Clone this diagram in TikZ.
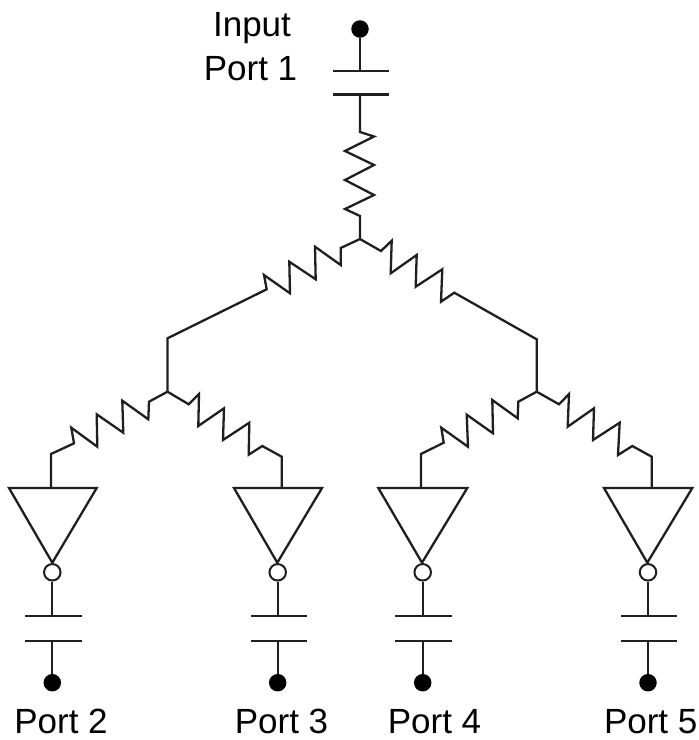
\documentclass[tikz,border=0pt]{standalone}
\usepackage{fontspec}
\setmainfont{Liberation Sans}
\tikzset{
  wire/.style={line width=2.3pt,color=black!88,line join=miter,line cap=butt},
  plate/.style={line width=2.2pt,color=black!88},
  terminal/.style={circle,fill=black,draw=none,inner sep=0pt,minimum size=17.5pt},
  bubble/.style={circle,fill=white,draw=black!88,line width=2pt,inner sep=0pt,minimum size=16.5pt},
  lbl/.style={anchor=base,inner sep=0pt,font=\fontsize{35}{38}\selectfont,text=black},
}
\begin{document}
\begin{tikzpicture}[x=1pt,y=-1pt]
\useasboundingbox (0,0) rectangle (699,740);
% input port
\node[terminal] (t1) at (360,29) {};
\coordinate (c1a) at (360,70.7);
\coordinate (c1b) at (360,94.5);
\coordinate (j0) at (360,239);
\coordinate (jl) at (167.5,391.7);
\coordinate (jr) at (536.7,391.7);
\node[lbl] (input) at (252,36.7) {Input};
\node[lbl] (port1) at (250.5,80) {Port 1};
\draw[wire] (t1) -- (c1a);
\draw[plate] (333,70.7) -- (389,70.7) (333,94.5) -- (389,94.5);
\draw[wire] (c1b) -- (360,132) -- (374,136.5) -- (345,151) -- (374,165) -- (345,180) -- (374,195) -- (345,209) -- (360,216) -- (j0);
% first split
\draw[wire] (j0) -- (340.7,248) -- (340.7,265) -- (315,246.7) -- (315.7,279.3) -- (289.3,261.7) -- (290,293.3) -- (264,275) -- (266.7,289.3) -- (167.5,338.3) -- (jl);
\draw[wire] (j0) -- (381,251) -- (391.7,240.7) -- (390.7,273.3) -- (416.7,255) -- (415.7,286.7) -- (442.3,269.3) -- (441,301.7) -- (454.3,292.7) -- (536.7,339.3) -- (jr);
% amplifiers: name / stem x / triangle left, right, apex / bubble x / plate left, right / label x
\foreach \n/\s/\a/\b/\c/\d/\e/\f/\g/\lab in {
  2/51/9/96.7/52.3/52.3/25/82/61/Port 2,
  3/281.7/234/322/277.3/277.7/250.7/307/281.5/Port 3,
  4/421/378.3/467.3/422/422.7/395/451.7/434.5/Port 4,
  5/651.7/604/692.3/647.3/648/620.7/677.3/650.7/Port 5}{
  \coordinate (in\n) at (\s,488);
  \coordinate (ap\n) at (\c,562.7);
  \coordinate (ca\n) at (\d,616.3);
  \coordinate (cb\n) at (\d,641.3);
  \draw[wire] (\a,488) -- (\b,488) -- (ap\n) -- cycle;
  \node[bubble] (b\n) at (\d,572.3) {};
  \node[terminal] (t\n) at (\d,682.7) {};
  \draw[wire] (b\n) -- (ca\n);
  \draw[plate] (\e,616.3) -- (\f,616.3) (\e,641.3) -- (\f,641.3);
  \draw[wire] (cb\n) -- (t\n);
  \node[lbl] (port\n) at (\g,733) {\lab};
}
% second split
\draw[wire] (jl) -- (149,401.7) -- (148.3,419.3) -- (122.3,400.7) -- (123.3,432.7) -- (96.7,414.3) -- (97.3,446.7) -- (71.3,427.7) -- (74,443.3) -- (51,454) -- (in2);
\draw[wire] (jl) -- (188.7,404.3) -- (199,394) -- (198.3,426) -- (224,408.3) -- (223,440) -- (249.3,422.7) -- (248.7,454.7) -- (262.3,446) -- (281.7,456.7) -- (in3);
\draw[wire] (jr) -- (518.3,401.7) -- (517.7,418.3) -- (492.3,400) -- (493,433.3) -- (466.7,414.7) -- (468,446.7) -- (441.3,427.7) -- (443.7,442.7) -- (421,454) -- (in4);
\draw[wire] (jr) -- (559,404.3) -- (569,394) -- (567.7,426.7) -- (594,408.3) -- (593,440) -- (619.7,422.7) -- (618,455) -- (632.3,446) -- (651.7,456.7) -- (in5);
\end{tikzpicture}
\end{document}
